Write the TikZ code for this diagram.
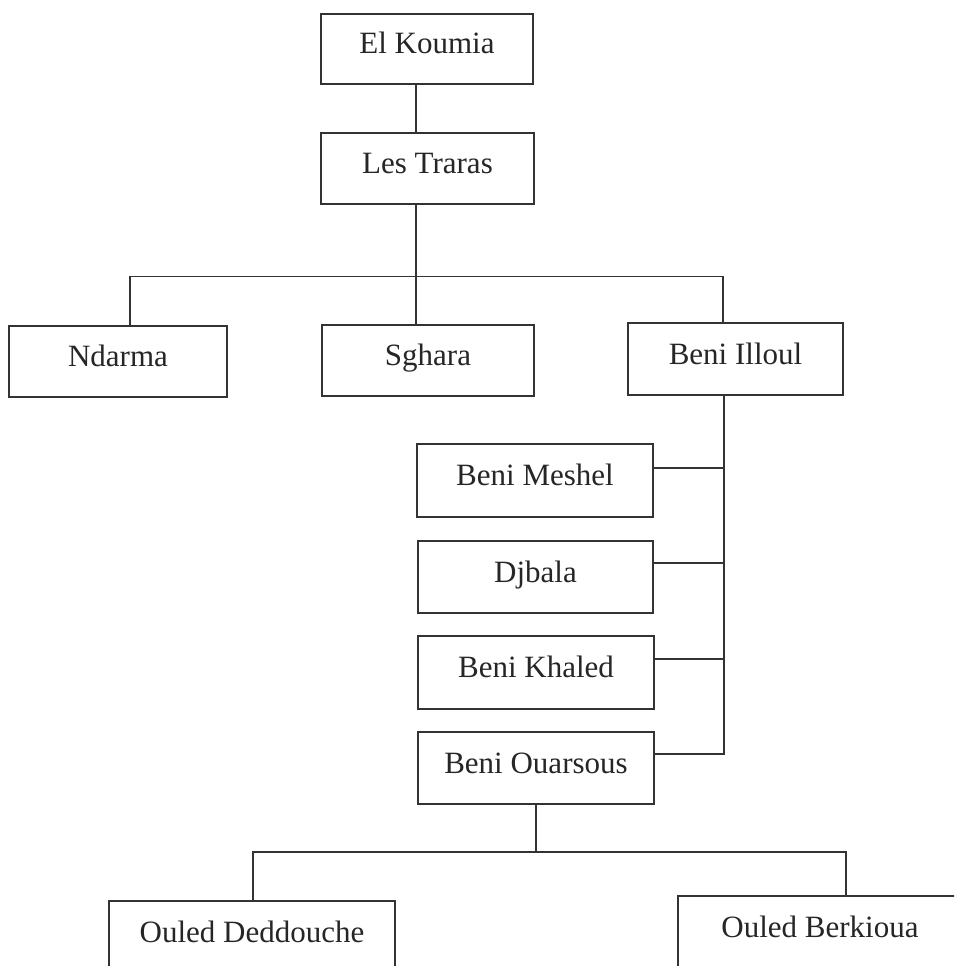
\documentclass[tikz,border=0pt]{standalone}
\usepackage{fontspec}
\setmainfont{Liberation Serif}
\begin{document}
\begin{tikzpicture}[x=1pt,y=-1pt,
  box/.style={draw=black!80, line width=1.1pt, inner sep=0pt, anchor=center,
              text height=15pt, text depth=5pt,
              font=\fontsize{31}{36}\selectfont, text=black!85},
  link/.style={draw=black!80, line width=1.1pt}]
\useasboundingbox (0,0) rectangle (954,966);
\clip (0,0) rectangle (954,966);
\fill[white] (0,0) rectangle (954,966);

% boxes
\node[box, minimum width=212, minimum height=70] (koumia) at (427,49) {El Koumia};
\node[box, minimum width=213, minimum height=71] (traras) at (427.5,168.5) {Les Traras};
\node[box, minimum width=218, minimum height=71] (ndarma) at (118,361.5) {Ndarma};
\node[box, minimum width=212, minimum height=71] (sghara) at (428,360.5) {Sghara};
\node[box, minimum width=215, minimum height=72] (illoul) at (735.5,359) {Beni Illoul};
\node[box, minimum width=236, minimum height=73] (meshel) at (535,480.5) {Beni Meshel};
\node[box, minimum width=235, minimum height=72] (djbala) at (535.5,577) {Djbala};
\node[box, minimum width=236, minimum height=73] (khaled) at (536,672.5) {Beni Khaled};
\node[box, minimum width=236, minimum height=72] (ouarsous) at (536,768) {Beni Ouarsous};
\node[box, minimum width=286, minimum height=72] (deddouche) at (252,937) {Ouled Deddouche};
\node[box, minimum width=284, minimum height=72] (berkioua) at (820,932) {Ouled Berkioua};

% junction points
\coordinate (trunk) at (416,276.5);
\coordinate (busL) at (130,276.5);
\coordinate (busR) at (723,276.5);
\coordinate (spine) at (724,754);
\coordinate (busBL) at (253,852);
\coordinate (busBR) at (846,852);

% top chain
\draw[link] (koumia.south -| trunk) -- (traras.north -| trunk);
\draw[link] (traras.south -| trunk) -- (trunk);
\draw[link] (ndarma.north -| busL) -- (busL) -- (busR) -- (illoul.north -| busR);
\draw[link] (sghara.north -| trunk) -- (trunk);

% right spine under Beni Illoul
\draw[link] (illoul.south -| spine) -- (spine) -- ([yshift=14pt]ouarsous.east);
\draw[link] ([yshift=12.5pt]meshel.east) -- ([yshift=12.5pt]meshel.east -| spine);
\draw[link] ([yshift=14pt]djbala.east) -- ([yshift=14pt]djbala.east -| spine);
\draw[link] ([yshift=13.5pt]khaled.east) -- ([yshift=13.5pt]khaled.east -| spine);

% bottom split
\draw[link] (ouarsous.south) -- (ouarsous.south |- busBL);
\draw[link] (deddouche.north -| busBL) -- (busBL) -- (busBR) -- (berkioua.north -| busBR);
\end{tikzpicture}
\end{document}
